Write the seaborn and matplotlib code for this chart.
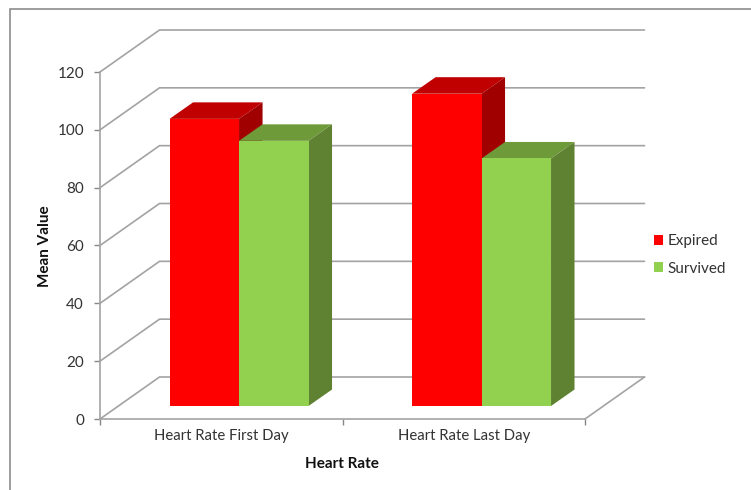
import matplotlib
matplotlib.use("Agg")
import matplotlib.pyplot as plt
import pandas as pd
import seaborn as sns
from matplotlib.patches import Polygon, Rectangle
from matplotlib.transforms import Affine2D

categories = ["Heart Rate First Day", "Heart Rate Last Day"]
expired = [99.3, 108.0]
survived = [91.7, 85.6]
series_names = ["Expired", "Survived"]
y_ticks = [0, 20, 40, 60, 80, 100, 120]

FRONT = {"Expired": "#FF0000", "Survived": "#92D050"}
TOP = {"Expired": "#C00000", "Survived": "#6F9A3A"}
SIDE = {"Expired": "#A00000", "Survived": "#5F8232"}
GRID = "#A3A3A3"
TEXT = "#333333"

W, H = 751, 490
sns.set_theme(style="white")
plt.rcParams["font.family"] = ["Lato", "DejaVu Sans"]

df = pd.DataFrame({
    "category": categories * 2,
    "series": [series_names[0]] * 2 + [series_names[1]] * 2,
    "value": expired + survived,
})

fig = plt.figure(figsize=(W / 100, H / 100), dpi=100, facecolor="white")
ax = fig.add_axes([100 / W, 1 - 419 / H, 485 / W, 347 / H], facecolor="none")

sns.barplot(data=df, x="category", y="value", hue="series", hue_order=series_names,
            palette=FRONT, width=0.573, saturation=1, linewidth=0, legend=False,
            zorder=5, ax=ax)
ax.set_xlim(-0.5, 1.5)
ax.set_ylim(0, 120)

# Pixel scale of the data axes, used to express the oblique projection
px_x = 2 / 485
px_y = 120 / 347
wall_dx, wall_dy = 59.5 * px_x, 42 * px_y
bar_shift_x, bar_shift_y = 17.8, 13.0
depth_dx, depth_dy = 23.5 * px_x, 16.5 * px_y

# Receding gridlines: side wall diagonals and back wall horizontals
for v in y_ticks:
    ax.plot([-0.5, -0.5 + wall_dx, 1.5 + wall_dx], [v, v + wall_dy, v + wall_dy],
            color=GRID, lw=1.2, clip_on=False, zorder=1, solid_joinstyle="miter")
ax.plot([1.5, 1.5 + wall_dx], [0, wall_dy], color=GRID, lw=1.2, clip_on=False, zorder=1)

# Move the front faces onto the bar plane and add their top and side faces
bar_plane = ax.transData + Affine2D().translate(bar_shift_x, bar_shift_y)
for i, bar in enumerate(list(ax.patches)):
    name = series_names[i // 2]
    x0, w, v = bar.get_x(), bar.get_width(), bar.get_height()
    x1 = x0 + w
    bar.set_transform(bar_plane)
    bar.set_clip_on(False)
    z = 2 + (i // 2)
    bar.set_zorder(z + 0.2)
    top = [(x0, v), (x1, v), (x1 + depth_dx, v + depth_dy), (x0 + depth_dx, v + depth_dy)]
    side = [(x1, 0), (x1 + depth_dx, depth_dy), (x1 + depth_dx, v + depth_dy), (x1, v)]
    for pts, col in ((top, TOP[name]), (side, SIDE[name])):
        ax.add_patch(Polygon(pts, closed=True, facecolor=col, edgecolor="none", zorder=z,
                             clip_on=False, transform=bar_plane))

# Axes styling
for s in ("top", "right"):
    ax.spines[s].set_visible(False)
for s in ("left", "bottom"):
    ax.spines[s].set_color(GRID)
    ax.spines[s].set_linewidth(1.2)
ax.set_yticks(y_ticks)
ax.set_xticks([-0.5, 0.5, 1.5], labels=[])
ax.set_xticks([0, 1], labels=categories, minor=True)
ax.tick_params(axis="y", which="major", length=4, width=1, color="#868686", labelcolor=TEXT,
               labelsize=11, pad=7.5, left=True)
ax.tick_params(axis="x", which="major", length=4, width=1, color="#868686", bottom=True)
ax.tick_params(axis="x", which="minor", length=0, labelcolor=TEXT, labelsize=10.7, pad=7,
               bottom=False)
ax.set_xlabel("")
ax.set_ylabel("")
fig.text(342 / W, 1 - 464 / H, "Heart Rate", ha="center", va="center", fontsize=11,
         fontweight="bold", color="#111111")
fig.text(45 / W, 1 - 246 / H, "Mean Value", ha="center", va="center", rotation=90,
         fontsize=11, fontweight="bold", color="#111111")

# Legend swatches and labels
legend_handles = [Rectangle((0, 0), 1, 1, facecolor=FRONT[n], edgecolor="none") for n in series_names]
fig.legend(legend_handles, series_names, loc="center left", bbox_to_anchor=(654 / W, 1 - 255 / H),
           frameon=False, fontsize=11, labelcolor=TEXT, handlelength=0.6, handleheight=0.6,
           handletextpad=0.26, labelspacing=0.87, borderpad=0, borderaxespad=0)

# Chart area border, open to the right and bottom of the canvas
fig.add_artist(Rectangle((9.5 / W, -0.02), 1.1, 1.02 - 9.5 / H, transform=fig.transFigure,
                         facecolor="none", edgecolor="#8C8C8C", lw=1.2))

fig.savefig("out.png", dpi=100)
